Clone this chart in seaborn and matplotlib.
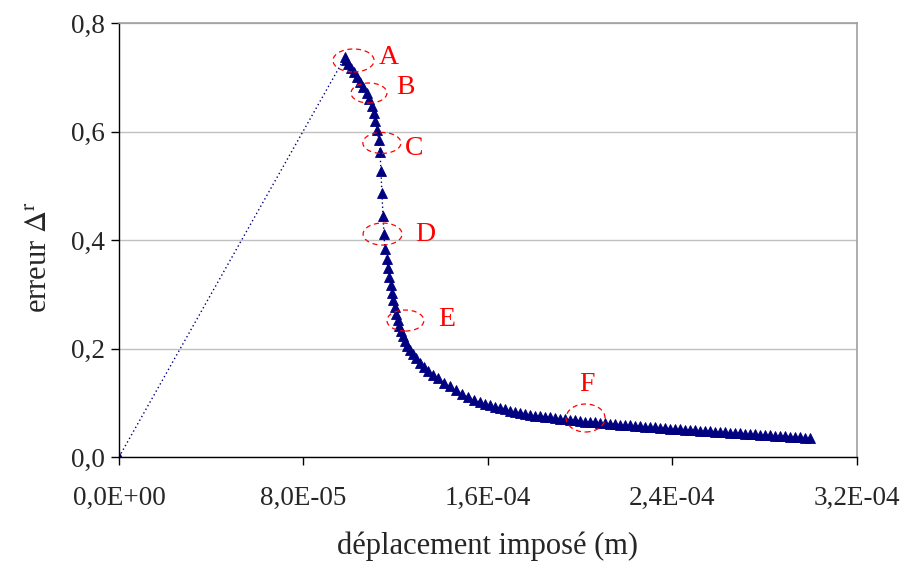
import numpy as np
import pandas as pd
import seaborn as sns
from matplotlib import pyplot as plt
from matplotlib.patches import Ellipse

# imposed displacement (micrometres) and error values
disp_um = [0.0,
           98.0, 98.6, 99.5, 100.4, 101.7, 103.2, 104.7, 106.0, 107.5, 108.6,
           109.7, 110.6, 111.2, 111.9, 112.7, 113.2,
           113.6, 114.0, 114.5, 114.9, 115.3, 116.2, 116.6, 117.1, 117.9, 118.4,
           119.0, 119.7, 120.3, 121.0, 121.6, 122.3, 123.1, 124.0, 125.1, 126.2,
           127.5, 128.8, 130.5, 132.2, 134.0, 136.1, 138.3, 140.9, 143.5, 146.1,
           148.7, 151.3, 153.9, 156.5,
           158.7, 160.9, 163.0, 165.2, 167.4, 169.5, 171.7, 173.9, 176.0, 178.2,
           180.4, 182.5, 184.7, 186.9, 189.0, 191.2, 193.4, 195.6, 197.7, 199.9,
           202.1, 204.2, 206.4, 208.6, 210.7, 212.9, 215.1, 217.2, 219.4, 221.6,
           223.7, 225.9, 228.1, 230.2, 232.4, 234.6, 236.8, 238.9, 241.1, 243.3,
           245.4, 247.6, 249.8, 251.9, 254.1, 256.3, 258.4, 260.6, 262.8, 264.9,
           267.1, 269.3, 271.4, 273.6, 275.8, 277.9, 280.1, 282.3, 284.5, 286.6,
           288.8, 291.0, 293.1, 295.3, 297.5, 299.6]
erreur = [0.0,
          0.737, 0.732, 0.724, 0.717, 0.710, 0.700, 0.691, 0.682, 0.671, 0.660,
          0.647, 0.634, 0.619, 0.603, 0.584, 0.562,
          0.527, 0.487, 0.444, 0.411, 0.383, 0.365, 0.348, 0.332, 0.317, 0.302,
          0.289, 0.276, 0.264, 0.253, 0.241, 0.232, 0.223, 0.214, 0.205, 0.197,
          0.189, 0.182, 0.173, 0.166, 0.159, 0.152, 0.145, 0.137, 0.130, 0.1235,
          0.117, 0.1115, 0.106, 0.1014,
          0.0981, 0.0951, 0.0925, 0.0900, 0.0876, 0.0853, 0.0833, 0.0815, 0.0796, 0.0780,
          0.0765, 0.0752, 0.0741, 0.0730, 0.0719, 0.0708, 0.0697, 0.0686, 0.0675, 0.0665,
          0.0654, 0.0647, 0.0638, 0.0629, 0.0621, 0.0612, 0.0605, 0.0597, 0.0590, 0.0582,
          0.0575, 0.0568, 0.0560, 0.0553, 0.0546, 0.0538, 0.0533, 0.0525, 0.0518, 0.0511,
          0.0505, 0.0498, 0.0492, 0.0485, 0.0479, 0.0472, 0.0466, 0.0459, 0.0453, 0.0446,
          0.0441, 0.0435, 0.0429, 0.0422, 0.0417, 0.0411, 0.0406, 0.0400, 0.0393, 0.0387,
          0.0382, 0.0376, 0.0371, 0.0365, 0.0359, 0.0354]

x_ticks = [0.0, 8.0e-5, 1.6e-4, 2.4e-4, 3.2e-4]
x_tick_labels = ["0,0E+00", "8,0E-05", "1,6E-04", "2,4E-04", "3,2E-04"]
y_ticks = [0.0, 0.2, 0.4, 0.6, 0.8]
y_tick_labels = ["0,0", "0,2", "0,4", "0,6", "0,8"]

# marked points: letter, ellipse centre (um, erreur), ellipse size (um, erreur), letter position
point_names = ["A", "B", "C", "D", "E", "F"]
ell_x_um = [101.7, 108.4, 114.0, 114.3, 124.2, 202.3]
ell_y = [0.731, 0.671, 0.579, 0.411, 0.2516, 0.0719]
ell_w_um = [17.8, 15.6, 16.5, 16.9, 16.0, 16.9]
ell_h = [0.0424, 0.0369, 0.0387, 0.0406, 0.0387, 0.0516]
lab_x_um = [116.9, 124.4, 127.9, 132.7, 142.2, 203.1]
lab_y = [0.737, 0.681, 0.568, 0.411, 0.254, 0.133]

df = pd.DataFrame({"deplacement": np.array(disp_um) * 1e-6, "erreur": erreur})

sns.set_style("white")
plt.rcParams['font.family'] = ['Liberation Serif', 'DejaVu Serif']
plt.rcParams['mathtext.fontset'] = 'stix'

fig = plt.figure(figsize=(9.11, 5.62), dpi=100)
ax = fig.add_axes([0.1306, 0.1868, 0.8101, 0.7722])

sns.lineplot(data=df, x="deplacement", y="erreur", sort=False, estimator=None,
             color="#000080", linestyle=(0, (1, 2)), linewidth=1.0,
             marker="^", markersize=7.5, markeredgecolor="#000080",
             markeredgewidth=0.6, ax=ax)

ax.set_xlim(0, 3.2e-4)
ax.set_ylim(0, 0.8)
ax.set_xticks(x_ticks)
ax.set_xticklabels(x_tick_labels)
ax.set_yticks(y_ticks)
ax.set_yticklabels(y_tick_labels)
ax.tick_params(axis='both', labelsize=19.5, direction='out', length=6, width=1,
               color='black', left=True, bottom=True)
ax.tick_params(axis='x', pad=15)
ax.tick_params(axis='y', pad=4)

ax.yaxis.grid(True, color='#c0c0c0', linewidth=1)
ax.xaxis.grid(False)
ax.set_axisbelow(True)
for side in ['left', 'bottom']:
    ax.spines[side].set_color('black')
    ax.spines[side].set_linewidth(1)
for side in ['top', 'right']:
    ax.spines[side].set_color('#a0a0a0')
    ax.spines[side].set_linewidth(1.2)

ax.set_xlabel("déplacement imposé (m)", fontsize=22)
ax.set_ylabel(r"erreur $\Delta^{\mathrm{r}}$", fontsize=22)
ax.xaxis.set_label_coords(0.5, -0.172)
ax.yaxis.set_label_coords(-0.088, 0.46)

for i, name in enumerate(point_names):
    ell = Ellipse((ell_x_um[i] * 1e-6, ell_y[i]), ell_w_um[i] * 1e-6, ell_h[i],
                  fill=False, edgecolor='red', linestyle=(0, (4, 3)), linewidth=0.9,
                  zorder=5)
    ax.add_patch(ell)
    ax.text(lab_x_um[i] * 1e-6, lab_y[i], name, color='red', fontsize=20,
            ha='center', va='center', zorder=6)

fig.savefig("out.png", dpi=100)
